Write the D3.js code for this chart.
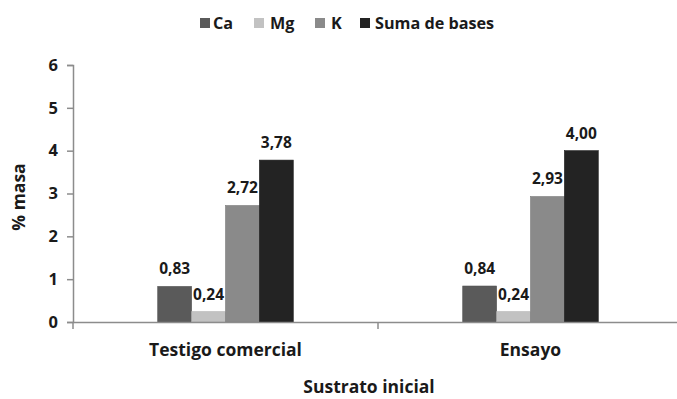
<!DOCTYPE html>
<html><head><meta charset="utf-8">
<script src="https://cdn.jsdelivr.net/npm/d3@7"></script>
<style>
body{margin:0;background:#fff;}
svg{display:block;font-family:"Open Sans",sans-serif;}
</style></head>
<body><svg id="c" width="677" height="399"></svg>
<script>
const categories = ["Testigo comercial", "Ensayo"];
const series = ["Ca", "Mg", "K", "Suma de bases"];
const Ca = [0.83, 0.84];
const Mg = [0.24, 0.24];
const K = [2.72, 2.93];
const Suma = [3.78, 4.00];
const yTicks = [0,1,2,3,4,5,6];
const colors = ["#5a5a5a", "#c2c2c2", "#8a8a8a", "#232323"];

const FONT = "'Open Sans',sans-serif";
const values = [Ca, Mg, K, Suma];
const svg = d3.select("#c");
const x0 = d3.scaleBand().domain(categories).range([73, 683]);
const x1 = d3.scaleBand().domain(series).range([0, x0.bandwidth()]).paddingOuter(2.5).paddingInner(0);
const y = d3.scaleLinear().domain([0, 6]).range([322, 65]);

// y axis
const ya = svg.append("g").attr("transform","translate(73,0)")
  .call(d3.axisLeft(y).tickValues(yTicks).tickSize(6).tickPadding(9).tickFormat(d3.format("d")));
ya.select(".domain").attr("stroke","#8c8c8c").attr("stroke-width",1.5);
ya.selectAll(".tick line").attr("stroke","#8c8c8c").attr("stroke-width",1.5);
ya.selectAll("text").attr("font-size",16.5).attr("font-weight","bold").attr("fill","#1a1a1a").attr("font-family",FONT);

// bars
categories.forEach((c, ci) => {
  series.forEach((s, si) => {
    const v = values[si][ci];
    const bx = x0(c) + x1(s);
    svg.append("rect").attr("x", bx).attr("y", y(v)).attr("width", x1.bandwidth()).attr("height", y(0) - y(v))
      .attr("fill", colors[si]).attr("stroke", d3.color(colors[si]).darker(0.3)).attr("stroke-width", 0.6);
    svg.append("text").attr("x", bx + x1.bandwidth()/2).attr("y", y(v) - 12)
      .attr("text-anchor","middle").attr("font-size",15.5).attr("font-weight","bold").attr("fill","#1a1a1a")
      .text(d3.format(".2f")(v).replace(".", ","));
  });
});

// x axis
const xa = svg.append("g").attr("transform","translate(0,322)")
  .call(d3.axisBottom(x0).tickSize(0).tickPadding(21.5));
xa.select(".domain").attr("stroke","#8c8c8c").attr("stroke-width",1.5);
xa.selectAll("text").attr("font-size",17.5).attr("font-weight","bold").attr("fill","#1a1a1a").attr("font-family",FONT);
// boundary ticks
const bounds = [x0.range()[0]].concat(categories.map(c => x0(c) + x0.bandwidth()));
svg.selectAll(".bt").data(bounds).enter().append("line")
  .attr("x1", d=>d).attr("x2", d=>d).attr("y1", 322).attr("y2", 329)
  .attr("stroke","#8c8c8c").attr("stroke-width",1.5);

// axis titles
svg.append("text").attr("x", 369).attr("y", 393).attr("text-anchor","middle")
  .attr("font-size",17.5).attr("font-weight","bold").attr("fill","#1a1a1a").text("Sustrato inicial");
svg.append("text").attr("transform","translate(25,197) rotate(-90)").attr("text-anchor","middle")
  .attr("font-size",17.5).attr("font-weight","bold").attr("fill","#1a1a1a").text("% masa");

// legend
const legX = [200, 254, 315, 360];
const legTX = [213, 270, 331, 375];
series.forEach((s, i) => {
  svg.append("rect").attr("x", legX[i]).attr("y", 18).attr("width", 10).attr("height", 10).attr("fill", colors[i]);
  svg.append("text").attr("x", legTX[i]).attr("y", 29).attr("font-size",16.2).attr("font-weight","bold")
    .attr("fill","#1a1a1a").text(s);
});
</script></body></html>
